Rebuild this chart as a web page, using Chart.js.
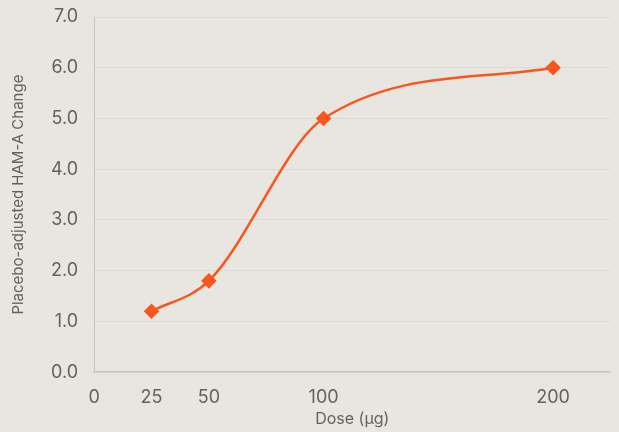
<!DOCTYPE html>
<html>
<head>
<meta charset="utf-8">
<script src="https://cdn.jsdelivr.net/npm/chart.js@4"></script>
<style>
  html, body { margin: 0; padding: 0; background: #e9e6e1; }
  #wrap { width: 619px; height: 432px; }
</style>
</head>
<body>
<div id="wrap"><canvas id="doseChart"></canvas></div>
<script>
const doses = [25, 50, 100, 200];
const hamaChange = [1.2, 1.8, 5.0, 6.0];
const xTicks = [0, 25, 50, 100, 200];

const points = doses.map((d, i) => ({ x: d, y: hamaChange[i] }));

new Chart(document.getElementById("doseChart"), {
  type: "line",
  data: {
    datasets: [{
      data: points,
      borderColor: "#f9561e",
      backgroundColor: "#f9561e",
      borderWidth: 2.5,
      pointStyle: "rectRot",
      pointRadius: 6,
      pointHoverRadius: 6,
      cubicInterpolationMode: "monotone",
      fill: false
    }]
  },
  options: {
    responsive: true,
    maintainAspectRatio: false,
    animation: false,
    layout: { padding: { top: 17, right: 3, left: 5, bottom: -1 } },
    plugins: { legend: { display: false }, tooltip: { enabled: false } },
    scales: {
      x: {
        type: "linear",
        min: 0,
        max: 225,
        afterBuildTicks: axis => { axis.ticks = xTicks.map(v => ({ value: v })); },
        grid: { display: false, drawTicks: false },
        border: { color: "#c8c5c0", width: 1.5 },
        ticks: { color: "#65625e", font: { family: "Inter", size: 18 }, padding: 15 },
        title: { display: true, text: "Dose (µg)", color: "#65625e", font: { family: "Inter", size: 16 }, padding: { top: -14 } }
      },
      y: {
        min: 0,
        max: 7,
        afterFit: axis => { axis.paddingTop = 0; },
        ticks: {
          stepSize: 1,
          color: "#65625e",
          font: { family: "Inter", size: 18 },
          padding: 16,
          callback: v => v.toFixed(1)
        },
        grid: { color: "#dcdcd6", drawTicks: false },
        border: { color: "#c8c5c0", width: 1 },
        title: { display: true, text: "Placebo-adjusted HAM-A Change", color: "#65625e", font: { family: "Inter", size: 15 }, padding: { bottom: 8 } }
      }
    }
  }
});
</script>
</body>
</html>
